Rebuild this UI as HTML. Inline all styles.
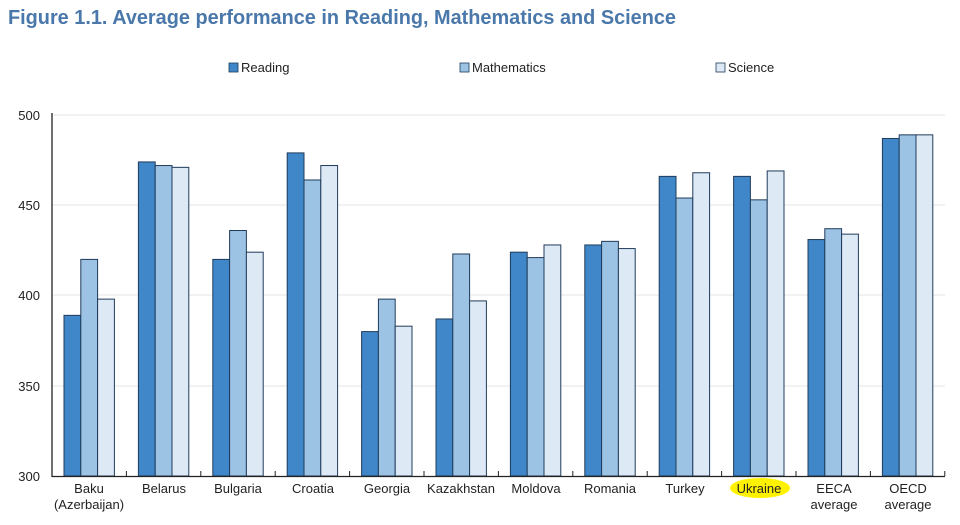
<!DOCTYPE html>
<html><head><meta charset="utf-8"><style>
body{margin:0;background:#fff;}
svg{display:block;font-family:"Liberation Sans",sans-serif;}
</style></head><body>
<svg id="s" width="960" height="525" viewBox="0 0 960 525">
<text x="8" y="24" font-size="20" font-weight="bold" fill="#4a78aa" textLength="668" lengthAdjust="spacingAndGlyphs">Figure 1.1. Average performance in Reading, Mathematics and Science</text>
<rect x="229" y="63" width="9" height="9" fill="#3f87c8" stroke="#1f3b5a" stroke-width="0.8"/>
<text x="241" y="72" font-size="13" fill="#222">Reading</text>
<rect x="460" y="63" width="9" height="9" fill="#9dc3e4" stroke="#1f3b5a" stroke-width="0.8"/>
<text x="472" y="72" font-size="13" fill="#222">Mathematics</text>
<rect x="716" y="63" width="9" height="9" fill="#dde9f5" stroke="#1f3b5a" stroke-width="0.8"/>
<text x="728" y="72" font-size="13" fill="#222">Science</text>
<g stroke="#e4e4e4" stroke-width="1">
<line x1="52" y1="115" x2="945" y2="115"/><line x1="52" y1="205" x2="945" y2="205"/>
<line x1="52" y1="295" x2="945" y2="295"/><line x1="52" y1="386" x2="945" y2="386"/>
</g>
<g font-size="13" fill="#222" text-anchor="end">
<text x="40" y="120">500</text><text x="40" y="210">450</text><text x="40" y="300">400</text><text x="40" y="391">350</text><text x="40" y="481">300</text>
</g>
<g id="bars"></g>
<line x1="52" y1="113" x2="52" y2="477" stroke="#222" stroke-width="1.3"/>
<line x1="52" y1="476.5" x2="945" y2="476.5" stroke="#222" stroke-width="1.3"/>
<g id="ticks" stroke="#222" stroke-width="1"></g>
<ellipse cx="760" cy="488" rx="30" ry="10" fill="#fff200"/>
<g font-size="13" fill="#222" text-anchor="middle">
<text x="89" y="493">Baku</text><text x="89" y="509">(Azerbaijan)</text>
<text x="164" y="493">Belarus</text>
<text x="238" y="493">Bulgaria</text>
<text x="313" y="493">Croatia</text>
<text x="387" y="493">Georgia</text>
<text x="461" y="493">Kazakhstan</text>
<text x="536" y="493">Moldova</text>
<text x="610" y="493">Romania</text>
<text x="685" y="493">Turkey</text>
<text x="759" y="493">Ukraine</text>
<text x="834" y="493">EECA</text><text x="834" y="509">average</text>
<text x="908" y="493">OECD</text><text x="908" y="509">average</text>
</g>
</svg>
<script>
var d=[[389,420,398],[474,472,471],[420,436,424],[479,464,472],[380,398,383],[387,423,397],[424,421,428],[428,430,426],[466,454,468],[466,453,469],[431,437,434],[487,489,489]];
var c=["#3f87c8","#9dc3e4","#dde9f5"],h="",t="";
for(var k=0;k<12;k++){var g=52+74.4*k;
for(var j=0;j<3;j++){var y=476-(d[k][j]-300)*1.805;
h+='<rect x="'+(g+12+16.8*j)+'" y="'+y+'" width="16.8" height="'+(476-y)+'" fill="'+c[j]+'" stroke="#1f3b5a" stroke-width="1"/>';}
t+='<line x1="'+(g+74.4)+'" y1="476" x2="'+(g+74.4)+'" y2="471"/>';}
document.getElementById("bars").innerHTML=h;document.getElementById("ticks").innerHTML=t;
</script>
</body></html>
